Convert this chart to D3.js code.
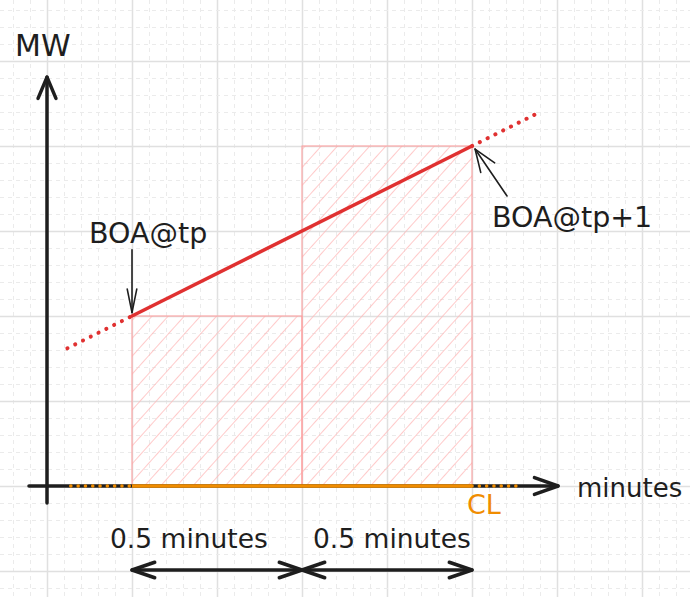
<!DOCTYPE html>
<html>
<head>
<meta charset="utf-8">
<script src="https://cdn.jsdelivr.net/npm/d3@7"></script>
<style>
  html, body { margin: 0; padding: 0; background: #ffffff; }
  svg { display: block; }
  text { font-family: "DejaVu Sans", sans-serif; fill: #1e1e1e; }
</style>
</head>
<body>
<svg id="chart" width="690" height="597"></svg>
<script>
// ---------- data ----------
const periodStart = [0, 0.5];          // minutes from tp
const periodEnd = [0.5, 1];
const periodMW = [100, 200];           // block height (MW)
const rampTimes = [0, 1];              // BOA@tp -> BOA@tp+1
const rampMW = [100, 200];
const rampExtTimes = [-0.19, 1.2];     // dotted extensions of ramp
const rampExtMW = [81, 220];
const clTimes = [0, 1];                // CL (solid)
const clExtTimes = [-0.18, 1.15];      // CL dotted extensions
const clMW = 0;
const periodLabels = ["0.5 minutes", "0.5 minutes"];
const boaLabels = ["BOA@tp", "BOA@tp+1"];
const boaArrowFrom = [[0, 139], [1.103, 170.6]];
const boaArrowTo = [[0, 102], [1.009, 198.2]];
const axisLabels = { x: "minutes", y: "MW", cl: "CL" };

// ---------- scales ----------
const W = 690, H = 597;
const x = d3.scaleLinear().domain([-0.25, 1.25]).range([47, 557]);
const y = d3.scaleLinear().domain([0, 250]).range([486, 61]);
const svg = d3.select("#chart");
const INK = "#1e1e1e", RED = "#e03131", ORANGE = "#f08c00";

// ---------- grid ----------
const g = svg.append("g");
const tMin = x.invert(0), tMax = x.invert(W);
const vMin = y.invert(H), vMax = y.invert(0);
function gridT(step) {
  const a = Math.ceil((tMin + 0.25) / step), b = Math.floor((tMax + 0.25) / step);
  return d3.range(a, b + 1).map(i => ({ v: i * step - 0.25, major: i % 5 === 0 }));
}
function gridV(step) {
  const a = Math.ceil(vMin / step), b = Math.floor(vMax / step);
  return d3.range(a, b + 1).map(i => ({ v: i * step, major: i % 5 === 0 }));
}
const vLines = gridT(0.05), hLines = gridV(10);
g.selectAll("line.v").data(vLines).join("line")
  .attr("x1", d => Math.round(x(d.v)) + 0.5).attr("x2", d => Math.round(x(d.v)) + 0.5)
  .attr("y1", 0).attr("y2", H)
  .attr("stroke", d => d.major ? "#e0e0e0" : "#ebebeb")
  .attr("stroke-width", d => d.major ? 1.5 : 1)
  .attr("stroke-dasharray", d => d.major ? null : "4,4");
g.selectAll("line.h").data(hLines).join("line")
  .attr("y1", d => Math.round(y(d.v)) + 0.5).attr("y2", d => Math.round(y(d.v)) + 0.5)
  .attr("x1", 0).attr("x2", W)
  .attr("stroke", d => d.major ? "#e0e0e0" : "#ebebeb")
  .attr("stroke-width", d => d.major ? 1.5 : 1)
  .attr("stroke-dasharray", d => d.major ? null : "4,4");

// ---------- hatch pattern ----------
const defs = svg.append("defs");
defs.append("pattern").attr("id", "hatch").attr("patternUnits", "userSpaceOnUse")
  .attr("width", 12).attr("height", 12).attr("patternTransform", "rotate(42)")
  .append("line").attr("x1", 0).attr("y1", 0).attr("x2", 0).attr("y2", 12)
  .attr("stroke", "#ffb8b8").attr("stroke-width", 1.5);

// ---------- blocks ----------
svg.selectAll("rect.block").data(periodMW).join("rect")
  .attr("x", (d, i) => x(periodStart[i]))
  .attr("y", d => y(d))
  .attr("width", (d, i) => x(periodEnd[i]) - x(periodStart[i]))
  .attr("height", d => y(0) - y(d))
  .attr("fill", "url(#hatch)")
  .attr("stroke", "#ff9c9c").attr("stroke-width", 1);

// ---------- arrow helper ----------
function arrowHead(sel, tip, from, len, half, color, sw) {
  const ang = Math.atan2(from[1] - tip[1], from[0] - tip[0]);
  const a1 = ang + half, a2 = ang - half;
  const p = `M${tip[0] + len * Math.cos(a1)},${tip[1] + len * Math.sin(a1)}L${tip[0]},${tip[1]}L${tip[0] + len * Math.cos(a2)},${tip[1] + len * Math.sin(a2)}`;
  sel.append("path").attr("d", p).attr("fill", "none").attr("stroke", color)
    .attr("stroke-width", sw).attr("stroke-linecap", "round").attr("stroke-linejoin", "round");
}

// ---------- axes ----------
const ax = svg.append("g");
const yAxisBottom = [x(-0.25), y(-10)], yAxisTop = [x(-0.25), y(240.5)];
ax.append("line").attr("x1", yAxisBottom[0]).attr("y1", yAxisBottom[1])
  .attr("x2", yAxisTop[0]).attr("y2", yAxisTop[1])
  .attr("stroke", INK).attr("stroke-width", 3.5).attr("stroke-linecap", "round");
arrowHead(ax, yAxisTop, yAxisBottom, 23, 0.40, INK, 3.5);
const xAxisLeft = [x(-0.303), y(0)], xAxisRight = [x(1.253), y(0)];
ax.append("line").attr("x1", xAxisLeft[0]).attr("y1", xAxisLeft[1])
  .attr("x2", xAxisRight[0]).attr("y2", xAxisRight[1])
  .attr("stroke", INK).attr("stroke-width", 3.5).attr("stroke-linecap", "round");
arrowHead(ax, xAxisRight, xAxisLeft, 25, 0.34, INK, 3.5);

// ---------- CL ----------
const line = d3.line().x(d => x(d[0])).y(d => y(d[1]));
svg.append("path").attr("d", line(clTimes.map(t => [t, clMW])))
  .attr("stroke", ORANGE).attr("stroke-width", 3.5).attr("fill", "none");
svg.append("path").attr("d", line([[clExtTimes[0], clMW], [clTimes[0], clMW]]))
  .attr("stroke", ORANGE).attr("stroke-width", 3.5).attr("fill", "none")
  .attr("stroke-dasharray", "0.1,7.2").attr("stroke-linecap", "round");
svg.append("path").attr("d", line([[clTimes[1], clMW], [clExtTimes[1], clMW]]))
  .attr("stroke", ORANGE).attr("stroke-width", 3.5).attr("fill", "none")
  .attr("stroke-dasharray", "0.1,7.2").attr("stroke-linecap", "round");

// ---------- ramp ----------
svg.append("path").attr("d", line(rampTimes.map((t, i) => [t, rampMW[i]])))
  .attr("stroke", RED).attr("stroke-width", 3.5).attr("fill", "none").attr("stroke-linecap", "round");
svg.append("path").attr("d", line([[rampExtTimes[0], rampExtMW[0]], [rampTimes[0], rampMW[0]]]))
  .attr("stroke", RED).attr("stroke-width", 4).attr("fill", "none")
  .attr("stroke-dasharray", "0.1,8.6").attr("stroke-linecap", "round");
svg.append("path").attr("d", line([[rampTimes[1], rampMW[1]], [rampExtTimes[1], rampExtMW[1]]]))
  .attr("stroke", RED).attr("stroke-width", 4).attr("fill", "none")
  .attr("stroke-dasharray", "0.1,8.6").attr("stroke-linecap", "round");

// ---------- BOA annotations ----------
const halfAngles = [0.2, 0.36];
boaArrowFrom.forEach((f, i) => {
  const from = [x(f[0]), y(f[1])], to = [x(boaArrowTo[i][0]), y(boaArrowTo[i][1])];
  svg.append("line").attr("x1", from[0]).attr("y1", from[1]).attr("x2", to[0]).attr("y2", to[1])
    .attr("stroke", INK).attr("stroke-width", 1.6).attr("stroke-linecap", "round");
  arrowHead(svg, to, from, 24, halfAngles[i], INK, 1.6);
});
svg.append("text").attr("x", x(0) - 43).attr("y", 243).text(boaLabels[0])
  .attr("font-size", 28.5);
svg.append("text").attr("x", x(1) + 20).attr("y", 227).text(boaLabels[1])
  .attr("font-size", 28.5);

// ---------- axis labels ----------
svg.append("text").attr("x", 15).attr("y", 56).text(axisLabels.y).attr("font-size", 30);
svg.append("text").attr("x", 577).attr("y", 497).text(axisLabels.x).attr("font-size", 26);
svg.append("text").attr("x", x(1) - 5).attr("y", 514).text(axisLabels.cl)
  .attr("font-size", 27).style("fill", ORANGE);

// ---------- period dimension arrows ----------
const dimY = 570;
periodStart.forEach((s, i) => {
  const a = [x(s), dimY], b = [x(periodEnd[i]), dimY];
  svg.append("line").attr("x1", a[0]).attr("y1", a[1]).attr("x2", b[0]).attr("y2", b[1])
    .attr("stroke", INK).attr("stroke-width", 3.5).attr("stroke-linecap", "round");
  arrowHead(svg, a, b, 24, 0.33, INK, 3.5);
  arrowHead(svg, b, a, 24, 0.33, INK, 3.5);
});
const labelX = [110, 313];
periodLabels.forEach((t, i) => {
  svg.append("text").attr("x", labelX[i]).attr("y", 548).text(t).attr("font-size", 26.5);
});
</script>
</body>
</html>
